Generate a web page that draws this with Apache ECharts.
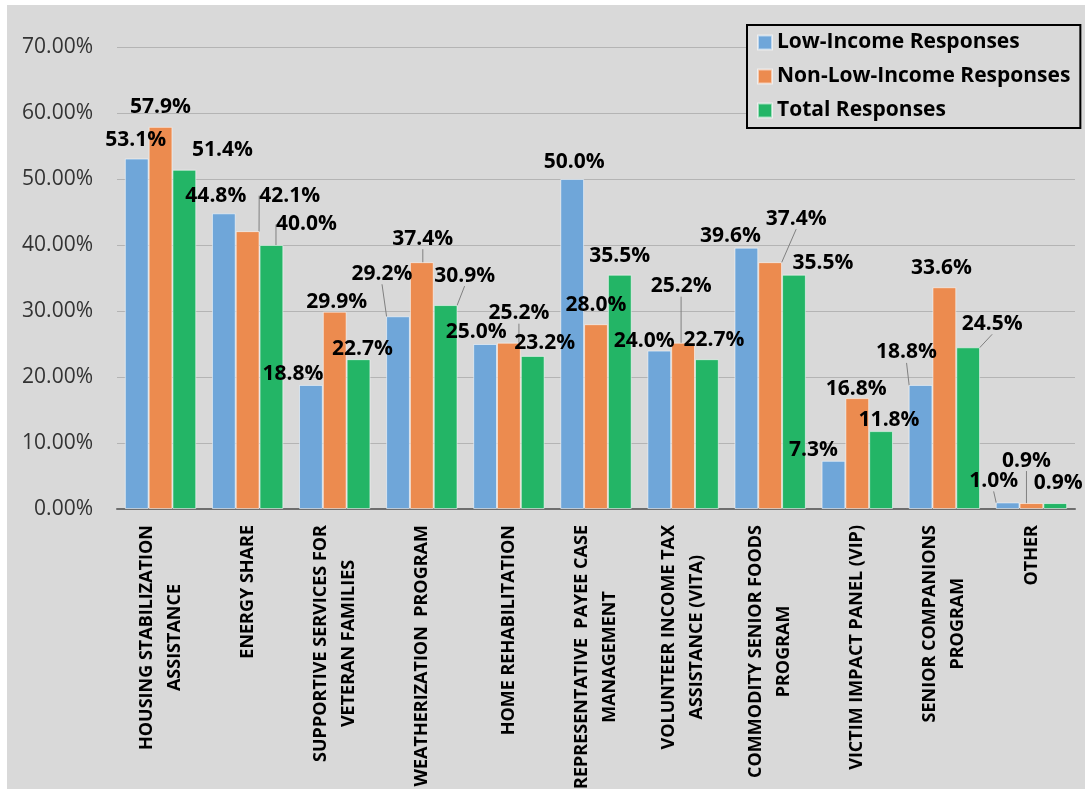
<!DOCTYPE html>
<html>
<head>
<meta charset="utf-8">
<script src="https://cdn.jsdelivr.net/npm/echarts@6/dist/echarts.min.js"></script>
<style>
html,body{margin:0;padding:0;background:#ffffff;width:1085px;height:789px;overflow:hidden;}
#chart{position:absolute;left:7px;top:5px;width:1078px;height:784px;background:#d9d9d9;}
</style>
</head>
<body>
<div id="chart"></div>
<script>
// ---- data ----
const categories = [
  'HOUSING STABILIZATION\nASSISTANCE',
  'ENERGY SHARE',
  'SUPPORTIVE SERVICES FOR\nVETERAN FAMILIES',
  'WEATHERIZATION  PROGRAM',
  'HOME REHABILITATION',
  'REPRESENTATIVE  PAYEE CASE\nMANAGEMENT',
  'VOLUNTEER INCOME TAX\nASSISTANCE (VITA)',
  'COMMODITY SENIOR FOODS\nPROGRAM',
  'VICTIM IMPACT PANEL (VIP)',
  'SENIOR COMPANIONS\nPROGRAM',
  'OTHER'
];
const seriesNames = ['Low-Income Responses', 'Non-Low-Income Responses', 'Total Responses'];
const lowIncome    = [53.1, 44.8, 18.8, 29.2, 25.0, 50.0, 24.0, 39.6, 7.3, 18.8, 1.0];
const nonLowIncome = [57.9, 42.1, 29.9, 37.4, 25.2, 28.0, 25.2, 37.4, 16.8, 33.6, 0.9];
const total        = [51.4, 40.0, 22.7, 30.9, 23.2, 35.5, 22.7, 35.5, 11.8, 24.5, 0.9];
const yTicks = [0, 10, 20, 30, 40, 50, 60, 70];

// ---- label placement (offsets from default 'top' position) ----
const labelOffsets = [
  [[-1,-2],[-8,-1],[-18,6],[-16,-26],[-9,5],[2,0],[-15,7],[-16,5],[-20,6],[-14,-16],[-14,-5]],
  [[0,-3],[42,-19],[2,7],[1,-7],[10,-13],[0,-3],[-2,-40],[26,-27],[-1,7],[-3,-3],[-5,-26]],
  [[38,-3],[35,-4],[4,6],[19,-13],[12,4],[0,-2],[7,-3],[29,5],[8,5],[24,-7],[3,-4]]
];
const leaderLines = [
  [false,false,false,true,false,false,false,false,false,true,true],
  [false,true,false,true,true,false,true,true,false,false,true],
  [false,true,false,true,false,false,false,false,false,true,false]
];

const colors = ['#6fa6d9', '#ec8b4f', '#23b566'];
const allValues = [lowIncome, nonLowIncome, total];

const chart = echarts.init(document.getElementById('chart'));

const series = allValues.map(function (vals, s) {
  return {
    name: seriesNames[s],
    type: 'bar',
    barGap: '0%',
    barCategoryGap: '18%',
    itemStyle: { color: colors[s], borderColor: 'rgba(255,255,255,0.55)', borderWidth: 1 },
    label: {
      show: true,
      position: 'top',
      distance: 6,
      formatter: function (p) { return p.value.toFixed(1) + '%'; },
      fontFamily: 'Open Sans',
      fontWeight: 'bold',
      fontSize: 21,
      color: '#000'
    },
    labelLine: { show: false, lineStyle: { color: '#808080', width: 1 } },
    labelLayout: function (params) {
      const o = labelOffsets[params.seriesIndex][params.dataIndex];
      return { dx: o[0], dy: o[1] };
    },
    data: vals.map(function (v, i) {
      return leaderLines[s][i]
        ? { value: v, labelLine: { show: true, lineStyle: { color: '#808080', width: 1 } } }
        : { value: v };
    })
  };
});

chart.setOption({
  backgroundColor: '#d9d9d9',
  animation: false,
  color: colors,
  grid: { left: 110, width: 958, top: 42, height: 462, containLabel: false, outerBoundsMode: 'none' },
  legend: {
    orient: 'vertical',
    left: 740,
    top: 20,
    padding: [7, 10, 7, 10],
    itemGap: 13,
    itemWidth: 14,
    itemHeight: 14,
    icon: 'rect',
    borderColor: '#000',
    borderWidth: 2,
    borderRadius: 0,
    backgroundColor: '#d9d9d9',
    textStyle: { fontFamily: 'Open Sans', fontWeight: 'bold', fontSize: 21, color: '#000' },
    data: seriesNames
  },
  xAxis: {
    type: 'category',
    data: categories,
    axisTick: { show: false },
    axisLine: { lineStyle: { color: '#6e6e6e', width: 2 } },
    axisLabel: {
      interval: 0,
      rotate: 90,
      margin: 16,
      formatter: function (v) {
        return v.split('\n').map(function (l) { return '{c|' + l + '}'; }).join('\n');
      },
      rich: {
        c: { align: 'center', fontFamily: 'Open Sans', fontWeight: 'bold', fontSize: 18, lineHeight: 28, color: '#000' }
      }
    }
  },
  yAxis: {
    type: 'value',
    min: yTicks[0],
    max: yTicks[yTicks.length - 1],
    interval: yTicks[1] - yTicks[0],
    axisLine: { show: false },
    axisTick: { show: false },
    splitLine: { lineStyle: { color: '#b4b4b4', width: 1 } },
    axisLabel: {
      margin: 24,
      formatter: function (v) { return v.toFixed(2) + '%'; },
      fontFamily: 'Open Sans',
      fontSize: 21,
      color: '#333'
    }
  },
  series: series
});
</script>
</body>
</html>
